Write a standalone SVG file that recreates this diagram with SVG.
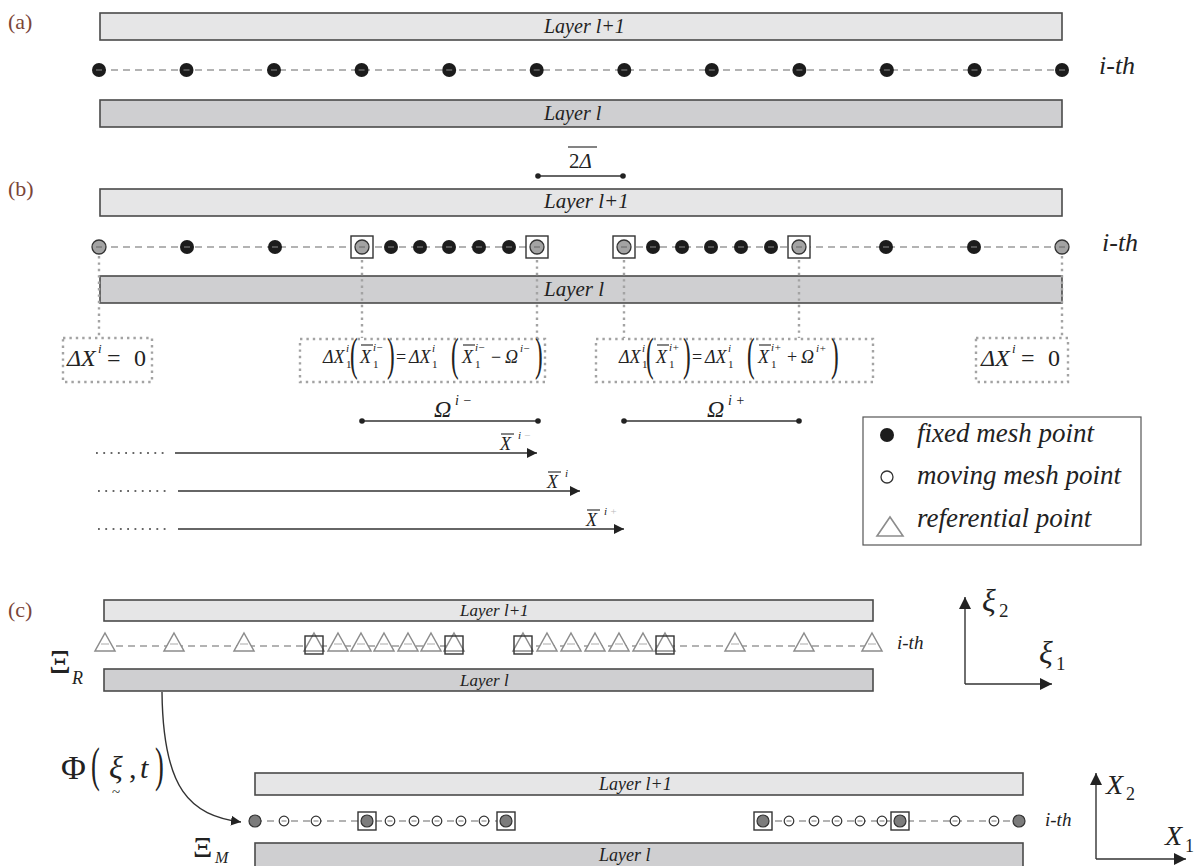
<svg xmlns="http://www.w3.org/2000/svg" xmlns:xlink="http://www.w3.org/1999/xlink" width="1199" height="866" viewBox="0 0 1199 866">
<style>
.l1{fill:#e6e6e7;stroke:#4a4a4a;stroke-width:1.6}
.l0{fill:#cfcfd1;stroke:#4a4a4a;stroke-width:1.6}
.lt{font-family:"Liberation Serif",serif;font-style:italic;fill:#222}
.up{font-family:"Liberation Serif",serif;fill:#222}
.gk{font-family:"Liberation Serif","DejaVu Serif",serif;fill:#222}
.pl{font-family:"Liberation Serif",serif;fill:#7b4537;font-size:22px}
.dash{stroke:#9a9a9a;stroke-width:1.3;stroke-dasharray:7 5;fill:none}
.dot{stroke:#a3a3a3;stroke-width:2.4;stroke-dasharray:2.4 4;fill:none}
.lead{stroke:#666;stroke-width:1.8;stroke-dasharray:1.8 5.5;fill:none}
.sq{fill:#fff;stroke:#333;stroke-width:1.4}
.gc{fill:#a3a3a3;stroke:#333;stroke-width:1.3}
.gc2{fill:#7c7c7c;stroke:#333;stroke-width:1.2}
.oc{fill:#fff;stroke:#333;stroke-width:1.2}
.tri{fill:#fff;stroke:#8c8c8c;stroke-width:1.5}
.ln{stroke:#333;stroke-width:1.4;fill:none}
.ob{stroke:#222;stroke-width:1.1}
</style>
<defs>
<marker id="ah" markerWidth="10" markerHeight="10" refX="10" refY="5" orient="auto" markerUnits="userSpaceOnUse"><path d="M0,0 L10,5 L0,10 z" fill="#222"/></marker>
<marker id="ah2" markerWidth="12" markerHeight="12" refX="12" refY="6" orient="auto" markerUnits="userSpaceOnUse"><path d="M0,0 L12,6 L0,12 z" fill="#222"/></marker>
<g id="bd"><circle r="7" fill="#1c1c1c"/><line x1="-3" x2="3" y1="0" y2="0" stroke="#8a8a8a" stroke-width="1"/></g>
<g id="gd"><circle r="7" class="gc"/><line x1="-3" x2="3" y1="0" y2="0" stroke="#666" stroke-width="1"/></g>
<g id="sgd"><rect x="-11" y="-11" width="22" height="22" class="sq"/><circle r="7" class="gc"/><line x1="-3" x2="3" y1="0" y2="0" stroke="#666" stroke-width="1"/></g>
<g id="tr"><path d="M0,-9 L10,9 L-10,9 z" class="tri"/><line x1="-4" x2="4" y1="2" y2="2" stroke="#aaa" stroke-width="1"/></g>
<g id="str"><path d="M0,-9 L10,9 L-10,9 z" class="tri"/><rect x="-9" y="-6" width="18" height="18" fill="none" stroke="#333" stroke-width="1.4"/></g>
<g id="oc"><circle r="4.8" class="oc"/><line x1="-2.5" x2="2.5" y1="0" y2="0" stroke="#777" stroke-width="1"/></g>
<g id="sgc"><rect x="-9" y="-9" width="18" height="18" class="sq"/><circle r="6" class="gc2"/></g>
</defs>

<!-- panel labels -->
<text class="pl" x="8" y="29">(a)</text>
<text class="pl" x="8" y="196">(b)</text>
<text class="pl" x="8" y="617">(c)</text>

<!-- (a) -->
<g id="a-layer-top"><rect class="l1" x="100" y="13" width="962" height="27"/><text class="lt" x="544" y="33" font-size="20">Layer l+1</text></g>
<g id="a-layer-bot"><rect class="l0" x="100" y="100" width="962" height="27"/><text class="lt" x="544" y="120" font-size="20">Layer l</text></g>
<g id="connectors-a"><line class="dash" x1="99" y1="70" x2="1062" y2="70"/></g>
<g id="a-points">
<use href="#bd" x="99" y="70"/><use href="#bd" x="186.5" y="70"/><use href="#bd" x="274" y="70"/><use href="#bd" x="361.6" y="70"/><use href="#bd" x="449.2" y="70"/><use href="#bd" x="536.7" y="70"/><use href="#bd" x="624.3" y="70"/><use href="#bd" x="711.8" y="70"/><use href="#bd" x="799.4" y="70"/><use href="#bd" x="886.9" y="70"/><use href="#bd" x="974.5" y="70"/><use href="#bd" x="1062" y="70"/>
</g>
<text class="lt" x="1099" y="74" font-size="26">i-th</text>

<!-- (b) -->
<g id="b-2delta">
<line x1="568" y1="147" x2="597" y2="147" stroke="#333" stroke-width="1.2"/>
<text class="up" x="569" y="168" font-size="21">2<tspan font-style="italic">Δ</tspan></text>
<line class="ln" x1="538" y1="176" x2="623" y2="176"/><circle cx="538" cy="176" r="2.8" fill="#222"/><circle cx="623" cy="176" r="2.8" fill="#222"/>
</g>
<g id="b-layer-top"><rect class="l1" x="100" y="189" width="962" height="27"/><text class="lt" x="544" y="208" font-size="21">Layer l+1</text></g>
<g id="b-layer-bot"><rect class="l0" x="100" y="276" width="962" height="27"/><text class="lt" x="544" y="296" font-size="21">Layer l</text></g>
<g id="connectors-b">
<line class="dash" x1="99" y1="247" x2="537" y2="247"/>
<line class="dash" x1="624" y1="247" x2="1062" y2="247"/>
<line class="dot" x1="99" y1="256" x2="99" y2="337"/>
<line class="dot" x1="362" y1="260" x2="362" y2="338"/>
<line class="dot" x1="537" y1="260" x2="537" y2="338"/>
<line class="dot" x1="624" y1="260" x2="624" y2="338"/>
<line class="dot" x1="799" y1="260" x2="799" y2="338"/>
<line class="dot" x1="1062" y1="256" x2="1062" y2="337"/>
</g>
<g id="b-points">
<use href="#gd" x="99" y="247"/><use href="#bd" x="187" y="247"/><use href="#bd" x="275" y="247"/>
<use href="#sgd" x="362" y="247"/><use href="#bd" x="391" y="247"/><use href="#bd" x="420" y="247"/><use href="#bd" x="449" y="247"/><use href="#bd" x="479" y="247"/><use href="#bd" x="509" y="247"/><use href="#sgd" x="537" y="247"/>
<use href="#sgd" x="624" y="247"/><use href="#bd" x="653" y="247"/><use href="#bd" x="682" y="247"/><use href="#bd" x="711" y="247"/><use href="#bd" x="741" y="247"/><use href="#bd" x="771" y="247"/><use href="#sgd" x="799" y="247"/>
<use href="#bd" x="886" y="247"/><use href="#bd" x="974" y="247"/><use href="#gd" x="1062" y="247"/>
</g>
<text class="lt" x="1102" y="251" font-size="26">i-th</text>

<!-- boundary condition boxes -->
<g id="bc-left">
<rect class="dot" x="63" y="338" width="89" height="44"/>
<text class="lt" x="67" y="366" font-size="24">ΔX</text>
<text class="lt" x="98" y="353" font-size="13">i</text>
<text class="up" x="107" y="366" font-size="24">=</text>
<text class="up" x="134" y="366" font-size="24">0</text>
</g>
<g id="bc-right">
<rect class="dot" x="976" y="338" width="92" height="44"/>
<text class="lt" x="981" y="366" font-size="24">ΔX</text>
<text class="lt" x="1012" y="353" font-size="13">i</text>
<text class="up" x="1021" y="366" font-size="24">=</text>
<text class="up" x="1048" y="366" font-size="24">0</text>
</g>

<g id="eq-minus">
<rect class="dot" x="300" y="339" width="245" height="43"/>
<g transform="translate(-296,0)">
<text class="lt" x="619" y="363" font-size="18">ΔX</text>
<text class="lt" x="642" y="352" font-size="11">i</text><text class="up" x="642" y="368" font-size="11">1</text>
<text class="up" font-size="46" transform="translate(646,370) scale(0.5,1)">(</text>
<line class="ob" x1="657" y1="345" x2="669" y2="345"/>
<text class="lt" x="656" y="363" font-size="18">X</text>
<text class="lt" x="669" y="351" font-size="11">i−</text><text class="up" x="669" y="368" font-size="11">1</text>
<text class="up" font-size="46" transform="translate(683,370) scale(0.5,1)">)</text>
<text class="up" x="692" y="363" font-size="18">=</text>
<text class="lt" x="705" y="363" font-size="18">ΔX</text>
<text class="lt" x="728" y="352" font-size="11">i</text><text class="up" x="728" y="368" font-size="11">1</text>
<text class="up" font-size="46" transform="translate(747,370) scale(0.5,1)">(</text>
<line class="ob" x1="759" y1="345" x2="771" y2="345"/>
<text class="lt" x="758" y="363" font-size="18">X</text>
<text class="lt" x="771" y="351" font-size="11">i−</text><text class="up" x="771" y="368" font-size="11">1</text>
<text class="up" x="787" y="363" font-size="18">−</text>
<text class="lt" x="801" y="363" font-size="18">Ω</text>
<text class="lt" x="816" y="352" font-size="11">i−</text>
<text class="up" font-size="46" transform="translate(831,370) scale(0.5,1)">)</text>
</g>
</g>

<g id="eq-plus">
<rect class="dot" x="596" y="339" width="277" height="43"/>
<text class="lt" x="619" y="363" font-size="18">ΔX</text>
<text class="lt" x="642" y="352" font-size="11">i</text><text class="up" x="642" y="368" font-size="11">1</text>
<text class="up" font-size="46" transform="translate(646,370) scale(0.5,1)">(</text>
<line class="ob" x1="657" y1="345" x2="669" y2="345"/>
<text class="lt" x="656" y="363" font-size="18">X</text>
<text class="lt" x="669" y="351" font-size="11">i+</text><text class="up" x="669" y="368" font-size="11">1</text>
<text class="up" font-size="46" transform="translate(683,370) scale(0.5,1)">)</text>
<text class="up" x="692" y="363" font-size="18">=</text>
<text class="lt" x="705" y="363" font-size="18">ΔX</text>
<text class="lt" x="728" y="352" font-size="11">i</text><text class="up" x="728" y="368" font-size="11">1</text>
<text class="up" font-size="46" transform="translate(747,370) scale(0.5,1)">(</text>
<line class="ob" x1="759" y1="345" x2="771" y2="345"/>
<text class="lt" x="758" y="363" font-size="18">X</text>
<text class="lt" x="771" y="351" font-size="11">i+</text><text class="up" x="771" y="368" font-size="11">1</text>
<text class="up" x="787" y="363" font-size="18">+</text>
<text class="lt" x="801" y="363" font-size="18">Ω</text>
<text class="lt" x="816" y="352" font-size="11">i+</text>
<text class="up" font-size="46" transform="translate(831,370) scale(0.5,1)">)</text>
</g>

<!-- Omega spans -->
<g id="omega-minus">
<text class="lt" x="434" y="417" font-size="24">Ω</text><text class="lt" x="455" y="405" font-size="14">i −</text>
<line class="ln" x1="362" y1="421" x2="538" y2="421"/><circle cx="362" cy="421" r="2.8" fill="#222"/><circle cx="538" cy="421" r="2.8" fill="#222"/>
</g>
<g id="omega-plus">
<text class="lt" x="707" y="417" font-size="24">Ω</text><text class="lt" x="728" y="405" font-size="14">i +</text>
<line class="ln" x1="624" y1="421" x2="799" y2="421"/><circle cx="624" cy="421" r="2.8" fill="#222"/><circle cx="799" cy="421" r="2.8" fill="#222"/>
</g>

<!-- X-bar arrows -->
<g id="xbar-arrows">
<line class="lead" x1="96" y1="453" x2="168" y2="453"/>
<line class="ln" x1="175" y1="453" x2="537" y2="453" marker-end="url(#ah)"/>
<line class="ob" x1="501" y1="434" x2="514" y2="434"/>
<text class="lt" x="500" y="450" font-size="18">X</text><text class="lt" x="518" y="439" font-size="11">i<tspan fill="#bbb"> −</tspan></text>
<line class="lead" x1="98" y1="491" x2="171" y2="491"/>
<line class="ln" x1="178" y1="491" x2="580" y2="491" marker-end="url(#ah)"/>
<line class="ob" x1="548" y1="472" x2="561" y2="472"/>
<text class="lt" x="547" y="488" font-size="18">X</text><text class="lt" x="565" y="477" font-size="11">i</text>
<line class="lead" x1="98" y1="529" x2="171" y2="529"/>
<line class="ln" x1="178" y1="529" x2="624" y2="529" marker-end="url(#ah)"/>
<line class="ob" x1="587" y1="510" x2="600" y2="510"/>
<text class="lt" x="586" y="526" font-size="18">X</text><text class="lt" x="604" y="515" font-size="11">i<tspan fill="#bbb"> +</tspan></text>
</g>

<!-- legend -->
<g id="legend">
<rect x="863" y="417" width="278" height="128" fill="#fff" stroke="#555" stroke-width="1.2"/>
<circle cx="887" cy="435" r="7" fill="#1c1c1c"/>
<text class="lt" x="917" y="442" font-size="27">fixed mesh point</text>
<circle cx="887" cy="477" r="6" fill="#fff" stroke="#333" stroke-width="1.3"/>
<text class="lt" x="917" y="484" font-size="27">moving mesh point</text>
<path d="M890,517 L903,536 L877,536 z" fill="#fff" stroke="#8c8c8c" stroke-width="1.6"/>
<text class="lt" x="917" y="527" font-size="27">referential point</text>
</g>

<!-- (c) referential -->
<g id="c-layer-top"><rect class="l1" x="104" y="600" width="769" height="21"/><text class="lt" x="460" y="616" font-size="17">Layer l+1</text></g>
<g id="c-layer-bot"><rect class="l0" x="104" y="669" width="769" height="22"/><text class="lt" x="460" y="686" font-size="17">Layer l</text></g>
<g id="connectors-c">
<line class="dash" x1="104" y1="646" x2="454" y2="646"/>
<line class="dash" x1="524" y1="646" x2="874" y2="646"/>
</g>
<g id="c-points">
<use href="#tr" x="105" y="642"/><use href="#tr" x="174" y="642"/><use href="#tr" x="244" y="642"/>
<use href="#str" x="314" y="642"/><use href="#tr" x="338" y="642"/><use href="#tr" x="361" y="642"/><use href="#tr" x="384" y="642"/><use href="#tr" x="408" y="642"/><use href="#tr" x="431" y="642"/><use href="#str" x="454" y="642"/>
<use href="#str" x="523" y="642"/><use href="#tr" x="547" y="642"/><use href="#tr" x="571" y="642"/><use href="#tr" x="595" y="642"/><use href="#tr" x="619" y="642"/><use href="#tr" x="643" y="642"/><use href="#str" x="665" y="642"/>
<use href="#tr" x="735" y="642"/><use href="#tr" x="804" y="642"/><use href="#tr" x="872" y="642"/>
</g>
<text class="lt" x="897" y="649" font-size="19">i-th</text>
<text class="gk" x="49" y="673" font-size="34">&#926;</text><text class="lt" x="72" y="684" font-size="18">R</text>

<g id="xi-axes">
<line class="ln" x1="965" y1="684" x2="965" y2="597" marker-end="url(#ah2)"/>
<line class="ln" x1="965" y1="684" x2="1052" y2="684" marker-end="url(#ah2)"/>
<text class="lt" x="982" y="611" font-size="32">ξ</text><text class="up" x="999" y="617" font-size="19">2</text>
<text class="lt" x="1039" y="663" font-size="32">ξ</text><text class="up" x="1056" y="670" font-size="19">1</text>
</g>

<!-- mapping -->
<g id="mapping">
<text class="up" x="61" y="779" font-size="34">Φ</text>
<text class="up" font-size="48" transform="translate(91,781) scale(0.55,1)">(</text>
<text class="lt" x="109" y="778" font-size="32">ξ</text>
<text class="up" x="112" y="797" font-size="15">~</text>
<text class="up" x="129" y="778" font-size="30">,</text>
<text class="lt" x="140" y="778" font-size="30">t</text>
<text class="up" font-size="48" transform="translate(155,781) scale(0.55,1)">)</text>
</g>
<g id="connectors-map"><path class="ln" d="M162,692 C163,790 190,815 241,822" marker-end="url(#ah)"/></g>

<!-- (c) moving -->
<g id="m-layer-top"><rect class="l1" x="255" y="773" width="768" height="22"/><text class="lt" x="599" y="790" font-size="18">Layer l+1</text></g>
<g id="m-layer-bot"><rect class="l0" x="255" y="843" width="768" height="25"/><text class="lt" x="599" y="861" font-size="18">Layer l</text></g>
<g id="connectors-m">
<line class="dash" x1="255" y1="821" x2="506" y2="821"/>
<line class="dash" x1="763" y1="821" x2="1019" y2="821"/>
</g>
<g id="m-points">
<circle cx="255" cy="821" r="6" class="gc2"/>
<use href="#oc" x="284" y="821"/><use href="#oc" x="316" y="821"/>
<use href="#sgc" x="367" y="821"/>
<use href="#oc" x="390" y="821"/><use href="#oc" x="414" y="821"/><use href="#oc" x="437" y="821"/><use href="#oc" x="461" y="821"/><use href="#oc" x="484" y="821"/>
<use href="#sgc" x="506" y="821"/>
<use href="#sgc" x="763" y="821"/>
<use href="#oc" x="789" y="821"/><use href="#oc" x="814" y="821"/><use href="#oc" x="837" y="821"/><use href="#oc" x="860" y="821"/><use href="#oc" x="882" y="821"/>
<use href="#sgc" x="900" y="821"/>
<use href="#oc" x="955" y="821"/><use href="#oc" x="994" y="821"/>
<circle cx="1019" cy="821" r="6" class="gc2"/>
</g>
<text class="lt" x="1045" y="826" font-size="19">i-th</text>
<text class="gk" x="193" y="857" font-size="30">&#926;</text><text class="lt" x="215" y="863" font-size="16">M</text>

<g id="X-axes">
<line class="ln" x1="1096" y1="859" x2="1096" y2="773" marker-end="url(#ah2)"/>
<line class="ln" x1="1096" y1="859" x2="1186" y2="859" marker-end="url(#ah2)"/>
<text class="lt" x="1106" y="794" font-size="28">X</text><text class="up" x="1126" y="800" font-size="18">2</text>
<text class="lt" x="1165" y="845" font-size="28">X</text><text class="up" x="1185" y="852" font-size="18">1</text>
</g>
</svg>
